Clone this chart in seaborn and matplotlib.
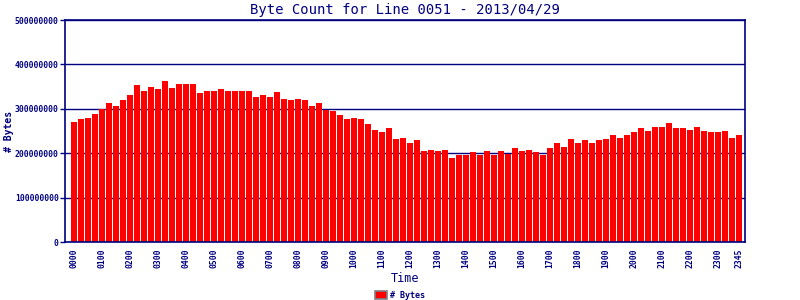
import matplotlib
matplotlib.use("Agg")
import matplotlib.pyplot as plt
import seaborn as sns
import pandas as pd
from matplotlib.ticker import FixedLocator, FuncFormatter

# ---- data (values in millions of bytes) ----
times = [f"{h:02d}{m:02d}" for h in range(24) for m in (0, 15, 30, 45)]
bytes_millions = [
    271, 278, 280, 289, 300, 314, 307, 319, 332, 353, 341, 350,
    344, 362, 346, 355, 355, 355, 335, 341, 339, 344, 339, 339,
    339, 341, 326, 330, 326, 337, 321, 319, 321, 319, 307, 314,
    298, 296, 285, 276, 280, 278, 265, 253, 247, 256, 231, 235,
    224, 229, 206, 208, 204, 208, 190, 195, 197, 202, 197, 206,
    195, 206, 199, 211, 204, 208, 202, 197, 211, 222, 215, 231,
    224, 229, 224, 229, 233, 240, 235, 240, 247, 256, 249, 260,
    260, 267, 256, 256, 253, 260, 251, 247, 247, 249, 235, 242,
]
tick_labels = [t for t in times if t.endswith("00")] + ["2345"]
y_ticks = [0, 100000000, 200000000, 300000000, 400000000, 500000000]

title = "Byte Count for Line 0051 - 2013/04/29"
series_name = "# Bytes"

df = pd.DataFrame({"Time": times, "Bytes": [v * 1_000_000 for v in bytes_millions]})

NAVY = "#000080"
sns.set_theme(style="white")
plt.rcParams["font.family"] = ["DejaVu Sans Mono", "DejaVu Sans"]

fig = plt.figure(figsize=(8, 3), dpi=100)
ax = fig.add_axes([65 / 800, 1 - 242 / 300, 680 / 800, 222 / 300])

sns.barplot(data=df, x="Time", y="Bytes", order=times, color="#ff0000",
            saturation=1, width=6 / 7, ax=ax, label=series_name, linewidth=0)

ax.set_xlim(-1.29, 95.86)
ax.set_ylim(0, 500000000)

ax.set_axisbelow(True)
ax.yaxis.grid(True, color=NAVY, linewidth=1.0)
ax.xaxis.grid(False)
for s in ax.spines.values():
    s.set_color(NAVY)
    s.set_linewidth(1.2)
    s.set_visible(True)

ax.yaxis.set_major_locator(FixedLocator(y_ticks))
ax.yaxis.set_major_formatter(FuncFormatter(lambda v, p: f"{int(v)}"))
ax.tick_params(axis="y", which="major", length=3.5, width=1, color=NAVY,
               labelcolor=NAVY, labelsize=5.8, pad=1, left=True, direction="out")
for lab in ax.get_yticklabels():
    lab.set_fontweight("bold")

tick_pos = [times.index(t) for t in tick_labels]
ax.set_xticks(tick_pos)
ax.set_xticklabels(tick_labels, rotation=90, fontsize=5.8, color=NAVY,
                   fontweight="bold", va="top", ha="center")
ax.tick_params(axis="x", length=0, pad=5)

ax.set_xlabel("")
ax.set_ylabel("")
fig.text(405 / 800, 1 - 278 / 300, "Time", ha="center", va="center",
         fontsize=8.5, color=NAVY)
fig.text(9 / 800, 1 - 131 / 300, series_name, rotation=90, ha="center",
         va="center", fontsize=7, color=NAVY, fontweight="bold")
fig.text(405 / 800, 1 - 10 / 300, title, ha="center", va="center",
         fontsize=10, color=NAVY)

leg = ax.get_legend()
if leg is not None:
    leg.remove()
handles, labels = ax.get_legend_handles_labels()
fl = fig.legend(handles[:1], [series_name], loc="center",
                bbox_to_anchor=(400 / 800, 1 - 295 / 300), frameon=False,
                fontsize=6, handlelength=1.4, handleheight=1.1,
                handletextpad=0.3, borderpad=0, borderaxespad=0)
for t in fl.get_texts():
    t.set_color(NAVY)
    t.set_fontweight("bold")
for h in fl.legend_handles:
    h.set_edgecolor("#808080")
    h.set_linewidth(1.2)

fig.savefig("out.png", dpi=100, facecolor="white")
